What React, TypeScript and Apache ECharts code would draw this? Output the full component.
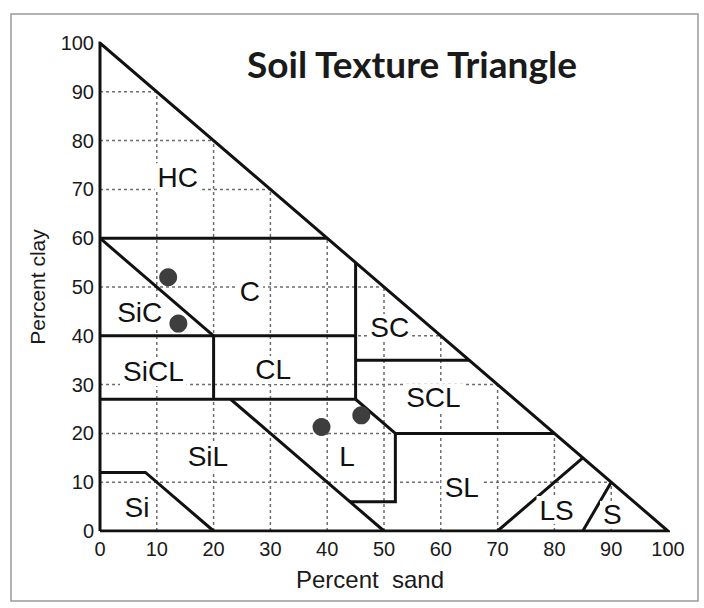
import React, { useEffect, useRef } from "react";
import * as echarts from "echarts";

// Percent sand (x) / percent clay (y)
const xTickValues = [0, 10, 20, 30, 40, 50, 60, 70, 80, 90, 100];
const gridSteps = [10, 20, 30, 40, 50, 60, 70, 80, 90];

// Texture class boundaries (polylines in [sand, clay])
const triangleOutline = [[0, 0], [100, 0], [0, 100], [0, 0]];
const heavyClayLine = [[0, 60], [40, 60]];
const siltyClayDiag = [[0, 60], [20, 40]];
const clay40Line = [[0, 40], [45, 40]];
const clayLoamWall = [[20, 40], [20, 27]];
const clay27Line = [[0, 27], [45, 27]];
const sandyClayWall = [[45, 55], [45, 27]];
const sandyClayLine = [[45, 35], [65, 35]];
const siltLoamDiag = [[23, 27], [50, 0]];
const loamEdge = [[45, 27], [52, 20], [52, 6], [44, 6]];
const sandyLoamTop = [[52, 20], [80, 20]];
const siltEdge = [[0, 12], [8, 12], [20, 0]];
const loamySandLine = [[70, 0], [85, 15]];
const sandLine = [[85, 0], [90, 10]];

const boundaries = [
  triangleOutline, heavyClayLine, siltyClayDiag, clay40Line, clayLoamWall,
  clay27Line, sandyClayWall, sandyClayLine, siltLoamDiag, loamEdge,
  sandyLoamTop, siltEdge, loamySandLine, sandLine,
];

// Class labels
const classNames = ["HC", "C", "SiC", "SiCL", "CL", "SiL", "L", "Si", "SC", "SCL", "SL", "LS", "S"];
const classSand = [13.7, 26.4, 7.0, 9.4, 30.5, 19.0, 43.5, 6.5, 51.0, 58.7, 63.7, 80.4, 90.2];
const classClay = [72.5, 49.0, 44.7, 32.6, 33.0, 15.2, 15.2, 4.9, 41.6, 27.3, 9.0, 4.3, 3.3];

// Sample points
const sampleSand = [12, 13.8, 39, 46];
const sampleClay = [52, 42.5, 21.3, 23.7];

const FONT = "'Liberation Sans', Arial, sans-serif";

export default function App() {
  const ref = useRef<HTMLDivElement>(null);
  useEffect(() => {
    if (!ref.current) return;
    const chart = echarts.init(ref.current, null, { renderer: "svg" });

    const gridSeries: any[] = [];
    gridSteps.forEach((k) => {
      gridSeries.push({
        type: "line", data: [[0, k], [100 - k, k]], showSymbol: false, silent: true, z: 1,
        lineStyle: { color: "#6e6e6e", width: 1.5, type: [3, 3] },
      });
      gridSeries.push({
        type: "line", data: [[k, 0], [k, 100 - k]], showSymbol: false, silent: true, z: 1,
        lineStyle: { color: "#6e6e6e", width: 1.5, type: [3, 3] },
      });
    });

    const boundarySeries = boundaries.map((b) => ({
      type: "line", data: b, showSymbol: false, silent: true, z: 3,
      lineStyle: { color: "#111", width: 3, join: "miter" },
    }));

    chart.setOption({
      animation: false,
      backgroundColor: "#fff",
      grid: { left: 100, right: 36, top: 43, bottom: 77 },
      xAxis: {
        type: "value", min: 0, max: 100, interval: 10,
        axisLine: { show: false }, axisTick: { show: false }, splitLine: { show: false },
        axisLabel: {
          fontSize: 20, color: "#1a1a1a", fontFamily: FONT, margin: 8,
          formatter: (v: number) => (xTickValues.includes(v) ? String(v) : ""),
        },
        name: "Percent  sand", nameLocation: "middle", nameGap: 36,
        nameTextStyle: { fontSize: 24, color: "#1a1a1a", fontFamily: FONT, padding: [0, 28, 0, 0] },
      },
      yAxis: {
        type: "value", min: 0, max: 100, interval: 10,
        axisLine: { show: false }, axisTick: { show: false }, splitLine: { show: false },
        axisLabel: { fontSize: 20, color: "#1a1a1a", fontFamily: FONT, margin: 6 },
        name: "Percent clay", nameLocation: "middle", nameGap: 52,
        nameTextStyle: { fontSize: 21, color: "#1a1a1a", fontFamily: FONT },
      },
      graphic: [
        {
          type: "rect", z: -1, silent: true,
          shape: { x: 11, y: 14, width: 687, height: 587 },
          style: { fill: "none", stroke: "#9a9a9a", lineWidth: 1.5 },
        },
        {
          type: "text", x: 412, y: 63, z: 10,
          style: {
            text: "Soil Texture Triangle", fill: "#1a1a1a", fontSize: 37, fontWeight: "bold",
            fontFamily: "Lato, 'Open Sans', sans-serif", align: "center", verticalAlign: "middle",
          },
        },
      ],
      series: [
        ...gridSeries,
        ...boundarySeries,
        {
          type: "scatter", z: 4, silent: true, symbolSize: 1,
          itemStyle: { color: "rgba(0,0,0,0)", opacity: 1 },
          data: classNames.map((n, i) => ({ name: n, value: [classSand[i], classClay[i]] })),
          label: {
            show: true, position: "inside", formatter: "{b}", fontSize: 28, color: "#111",
            fontFamily: FONT, backgroundColor: "#fff", padding: [0, 3],
          },
        },
        {
          type: "scatter", z: 5, silent: true, symbolSize: 18,
          itemStyle: { color: "#3e3e3e", opacity: 1 },
          data: sampleSand.map((s, i) => [s, sampleClay[i]]),
        },
      ],
    });
    return () => chart.dispose();
  }, []);
  return (
    <div
      ref={ref}
      style={{ position: "fixed", left: 0, top: 0, width: 704, height: 608 }}
    />
  );
}
